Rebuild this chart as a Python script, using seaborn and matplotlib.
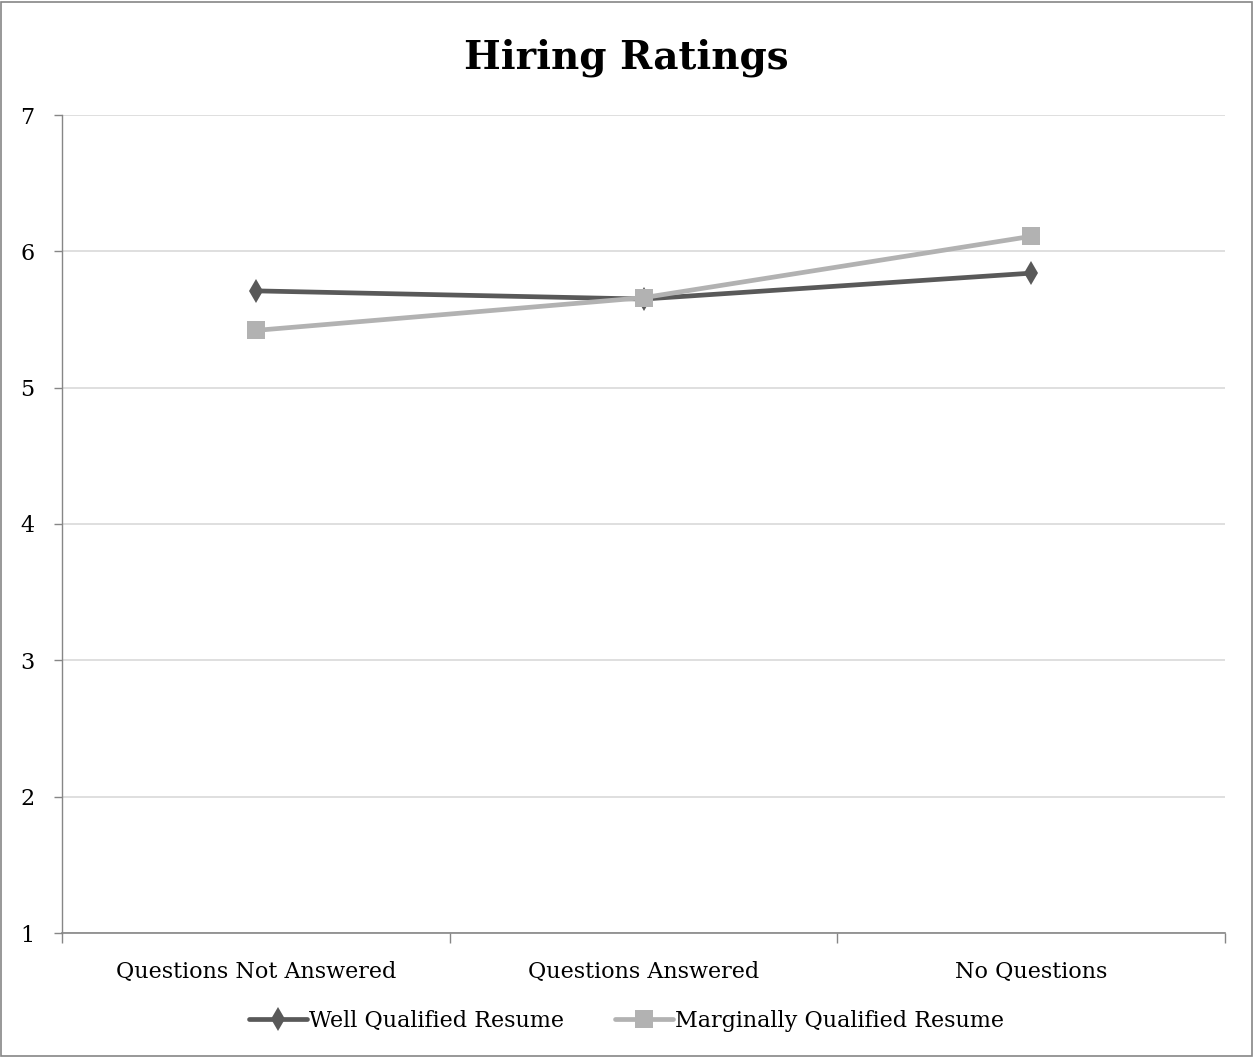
import matplotlib
matplotlib.use("Agg")
import matplotlib.pyplot as plt
import seaborn as sns
import pandas as pd
from matplotlib.lines import Line2D
from matplotlib.patches import Rectangle

categories = ["Questions Not Answered", "Questions Answered", "No Questions"]
well_qualified = [5.71, 5.65, 5.84]
marginally_qualified = [5.42, 5.66, 6.11]
series_names = ["Well Qualified Resume", "Marginally Qualified Resume"]
y_ticks = [1, 2, 3, 4, 5, 6, 7]

sns.set_theme(style="white")
plt.rcParams["font.family"] = ["DejaVu Serif"]
plt.rcParams["text.color"] = "black"
plt.rcParams["xtick.color"] = "black"
plt.rcParams["ytick.color"] = "black"

dark = "#595959"
light = "#b2b2b2"

fig = plt.figure(figsize=(12.53, 10.57), dpi=100)
ax = fig.add_axes([62 / 1253, 1 - 933 / 1057, (1225 - 62) / 1253, (933 - 115) / 1057])

df = pd.DataFrame({
    "category": categories * 2,
    "rating": well_qualified + marginally_qualified,
    "series": [series_names[0]] * 3 + [series_names[1]] * 3,
})

sns.lineplot(data=df[df.series == series_names[0]], x="category", y="rating",
             sort=False, color=dark, linewidth=3.4, marker="d", markersize=12,
             markeredgewidth=0, ax=ax, legend=False)
sns.lineplot(data=df[df.series == series_names[1]], x="category", y="rating",
             sort=False, color=light, linewidth=3.4, marker="s", markersize=13,
             markeredgewidth=0, ax=ax, legend=False)

ax.set_xlim(-0.5, 2.5)
ax.set_ylim(1, 7)
ax.set_yticks(y_ticks)
ax.set_yticklabels([str(v) for v in y_ticks], fontsize=16)
ax.set_xticks(range(len(categories)))
ax.set_xticklabels(categories, fontsize=16)
ax.tick_params(axis="x", length=0, pad=20, labelcolor="black")
ax.tick_params(axis="y", length=6, width=1, color="#868686", direction="out", pad=14,
               left=True, labelcolor="black")
# Minor ticks between category slots
ax.set_xticks([-0.5, 0.5, 1.5, 2.5], minor=True)
ax.tick_params(axis="x", which="minor", length=7, width=1, color="#868686", direction="out", bottom=True)

ax.set_xlabel("")
ax.set_ylabel("")
ax.grid(axis="y", color="#d9d9d9", linewidth=1.2)
ax.grid(axis="x", visible=False)
ax.set_axisbelow(True)
for side in ["top", "right"]:
    ax.spines[side].set_visible(False)
ax.spines["left"].set_color("#868686")
ax.spines["bottom"].set_color("#868686")
ax.spines["left"].set_linewidth(1)
ax.spines["bottom"].set_linewidth(1.2)

fig.text(0.5, 1 - 58 / 1057, "Hiring Ratings", ha="center", va="center",
         fontsize=28, fontweight="bold", color="black")

handles = [
    Line2D([], [], color=dark, linewidth=3.4, marker="d", markersize=12, markeredgewidth=0),
    Line2D([], [], color=light, linewidth=3.4, marker="s", markersize=13, markeredgewidth=0),
]
fig.legend(handles, series_names, loc="center", bbox_to_anchor=(0.5, 1 - 1021 / 1057),
           ncol=2, frameon=False, fontsize=16, handlelength=2.6, handletextpad=0.1,
           columnspacing=2.3, labelcolor="black")

fig.patches.append(Rectangle((0.001, 0.001), 0.998, 0.997, transform=fig.transFigure,
                             fill=False, edgecolor="#868686", linewidth=1.2))

fig.savefig("out.png", dpi=100, facecolor="white")
